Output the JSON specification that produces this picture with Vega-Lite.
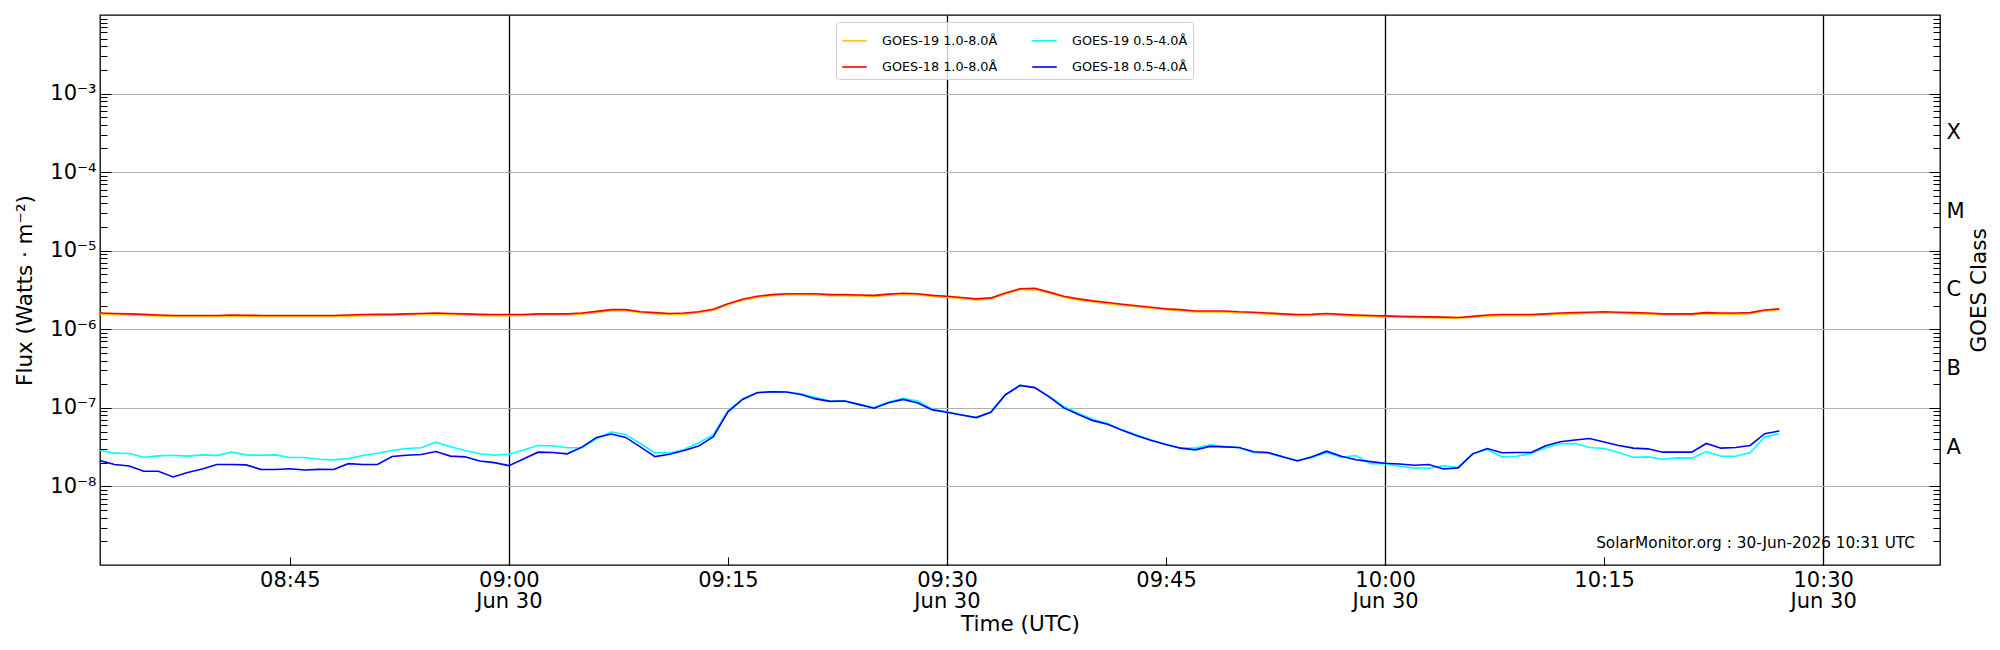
{
  "$schema": "https://vega.github.io/schema/vega-lite/v6.json",
  "width": 1840,
  "height": 550,
  "autosize": {"type": "none"},
  "padding": {"left": 100, "top": 15, "right": 60, "bottom": 85},
  "background": "white",
  "title": {
    "text": "SolarMonitor.org : 30-Jun-2026 10:31 UTC",
    "orient": "bottom",
    "anchor": "end",
    "frame": "group",
    "fontSize": 15.3,
    "fontWeight": "normal",
    "color": "black",
    "offset": 0,
    "dx": -25,
    "dy": -99
  },
  "data": {
    "values": [
      {"t": "2026-06-30T08:32:00Z", "g19l": 1.56e-6, "g18l": 1.61e-6, "g19s": 2.86e-8, "g18s": 2.13e-8},
      {"t": "2026-06-30T08:33:00Z", "g19l": 1.54e-6, "g18l": 1.59e-6, "g19s": 2.65e-8, "g18s": 1.90e-8},
      {"t": "2026-06-30T08:34:00Z", "g19l": 1.52e-6, "g18l": 1.57e-6, "g19s": 2.62e-8, "g18s": 1.82e-8},
      {"t": "2026-06-30T08:35:00Z", "g19l": 1.50e-6, "g18l": 1.55e-6, "g19s": 2.35e-8, "g18s": 1.56e-8},
      {"t": "2026-06-30T08:36:00Z", "g19l": 1.48e-6, "g18l": 1.52e-6, "g19s": 2.45e-8, "g18s": 1.56e-8},
      {"t": "2026-06-30T08:37:00Z", "g19l": 1.46e-6, "g18l": 1.50e-6, "g19s": 2.49e-8, "g18s": 1.32e-8},
      {"t": "2026-06-30T08:38:00Z", "g19l": 1.46e-6, "g18l": 1.50e-6, "g19s": 2.43e-8, "g18s": 1.50e-8},
      {"t": "2026-06-30T08:39:00Z", "g19l": 1.46e-6, "g18l": 1.50e-6, "g19s": 2.52e-8, "g18s": 1.67e-8},
      {"t": "2026-06-30T08:40:00Z", "g19l": 1.46e-6, "g18l": 1.50e-6, "g19s": 2.47e-8, "g18s": 1.90e-8},
      {"t": "2026-06-30T08:41:00Z", "g19l": 1.47e-6, "g18l": 1.52e-6, "g19s": 2.73e-8, "g18s": 1.90e-8},
      {"t": "2026-06-30T08:42:00Z", "g19l": 1.46e-6, "g18l": 1.51e-6, "g19s": 2.52e-8, "g18s": 1.88e-8},
      {"t": "2026-06-30T08:43:00Z", "g19l": 1.46e-6, "g18l": 1.50e-6, "g19s": 2.49e-8, "g18s": 1.65e-8},
      {"t": "2026-06-30T08:44:00Z", "g19l": 1.46e-6, "g18l": 1.50e-6, "g19s": 2.52e-8, "g18s": 1.64e-8},
      {"t": "2026-06-30T08:45:00Z", "g19l": 1.46e-6, "g18l": 1.50e-6, "g19s": 2.33e-8, "g18s": 1.68e-8},
      {"t": "2026-06-30T08:46:00Z", "g19l": 1.46e-6, "g18l": 1.50e-6, "g19s": 2.33e-8, "g18s": 1.62e-8},
      {"t": "2026-06-30T08:47:00Z", "g19l": 1.46e-6, "g18l": 1.50e-6, "g19s": 2.22e-8, "g18s": 1.65e-8},
      {"t": "2026-06-30T08:48:00Z", "g19l": 1.46e-6, "g18l": 1.50e-6, "g19s": 2.18e-8, "g18s": 1.64e-8},
      {"t": "2026-06-30T08:49:00Z", "g19l": 1.47e-6, "g18l": 1.52e-6, "g19s": 2.26e-8, "g18s": 1.95e-8},
      {"t": "2026-06-30T08:50:00Z", "g19l": 1.49e-6, "g18l": 1.54e-6, "g19s": 2.47e-8, "g18s": 1.90e-8},
      {"t": "2026-06-30T08:51:00Z", "g19l": 1.50e-6, "g18l": 1.55e-6, "g19s": 2.65e-8, "g18s": 1.90e-8},
      {"t": "2026-06-30T08:52:00Z", "g19l": 1.51e-6, "g18l": 1.55e-6, "g19s": 2.86e-8, "g18s": 2.40e-8},
      {"t": "2026-06-30T08:53:00Z", "g19l": 1.52e-6, "g18l": 1.57e-6, "g19s": 3.04e-8, "g18s": 2.49e-8},
      {"t": "2026-06-30T08:54:00Z", "g19l": 1.54e-6, "g18l": 1.59e-6, "g19s": 3.10e-8, "g18s": 2.55e-8},
      {"t": "2026-06-30T08:55:00Z", "g19l": 1.56e-6, "g18l": 1.61e-6, "g19s": 3.66e-8, "g18s": 2.78e-8},
      {"t": "2026-06-30T08:56:00Z", "g19l": 1.54e-6, "g18l": 1.59e-6, "g19s": 3.19e-8, "g18s": 2.43e-8},
      {"t": "2026-06-30T08:57:00Z", "g19l": 1.52e-6, "g18l": 1.57e-6, "g19s": 2.86e-8, "g18s": 2.38e-8},
      {"t": "2026-06-30T08:58:00Z", "g19l": 1.50e-6, "g18l": 1.55e-6, "g19s": 2.60e-8, "g18s": 2.11e-8},
      {"t": "2026-06-30T08:59:00Z", "g19l": 1.49e-6, "g18l": 1.54e-6, "g19s": 2.49e-8, "g18s": 2.01e-8},
      {"t": "2026-06-30T09:00:00Z", "g19l": 1.49e-6, "g18l": 1.54e-6, "g19s": 2.57e-8, "g18s": 1.84e-8},
      {"t": "2026-06-30T09:01:00Z", "g19l": 1.50e-6, "g18l": 1.54e-6, "g19s": 2.90e-8, "g18s": 2.24e-8},
      {"t": "2026-06-30T09:02:00Z", "g19l": 1.52e-6, "g18l": 1.57e-6, "g19s": 3.32e-8, "g18s": 2.73e-8},
      {"t": "2026-06-30T09:03:00Z", "g19l": 1.52e-6, "g18l": 1.57e-6, "g19s": 3.29e-8, "g18s": 2.70e-8},
      {"t": "2026-06-30T09:04:00Z", "g19l": 1.53e-6, "g18l": 1.57e-6, "g19s": 3.10e-8, "g18s": 2.60e-8},
      {"t": "2026-06-30T09:05:00Z", "g19l": 1.56e-6, "g18l": 1.61e-6, "g19s": 3.10e-8, "g18s": 3.16e-8},
      {"t": "2026-06-30T09:06:00Z", "g19l": 1.64e-6, "g18l": 1.69e-6, "g19s": 4.05e-8, "g18s": 4.21e-8},
      {"t": "2026-06-30T09:07:00Z", "g19l": 1.73e-6, "g18l": 1.78e-6, "g19s": 4.92e-8, "g18s": 4.64e-8},
      {"t": "2026-06-30T09:08:00Z", "g19l": 1.72e-6, "g18l": 1.78e-6, "g19s": 4.59e-8, "g18s": 4.21e-8},
      {"t": "2026-06-30T09:09:00Z", "g19l": 1.62e-6, "g18l": 1.67e-6, "g19s": 3.52e-8, "g18s": 3.19e-8},
      {"t": "2026-06-30T09:10:00Z", "g19l": 1.58e-6, "g18l": 1.63e-6, "g19s": 2.67e-8, "g18s": 2.40e-8},
      {"t": "2026-06-30T09:11:00Z", "g19l": 1.54e-6, "g18l": 1.59e-6, "g19s": 2.67e-8, "g18s": 2.57e-8},
      {"t": "2026-06-30T09:12:00Z", "g19l": 1.56e-6, "g18l": 1.61e-6, "g19s": 2.95e-8, "g18s": 2.86e-8},
      {"t": "2026-06-30T09:13:00Z", "g19l": 1.62e-6, "g18l": 1.67e-6, "g19s": 3.60e-8, "g18s": 3.26e-8},
      {"t": "2026-06-30T09:14:00Z", "g19l": 1.75e-6, "g18l": 1.80e-6, "g19s": 4.55e-8, "g18s": 4.29e-8},
      {"t": "2026-06-30T09:15:00Z", "g19l": 2.05e-6, "g18l": 2.11e-6, "g19s": 9.16e-8, "g18s": 8.89e-8},
      {"t": "2026-06-30T09:16:00Z", "g19l": 2.34e-6, "g18l": 2.41e-6, "g19s": 1.30e-7, "g18s": 1.28e-7},
      {"t": "2026-06-30T09:17:00Z", "g19l": 2.55e-6, "g18l": 2.63e-6, "g19s": 1.57e-7, "g18s": 1.56e-7},
      {"t": "2026-06-30T09:18:00Z", "g19l": 2.68e-6, "g18l": 2.76e-6, "g19s": 1.60e-7, "g18s": 1.60e-7},
      {"t": "2026-06-30T09:19:00Z", "g19l": 2.75e-6, "g18l": 2.83e-6, "g19s": 1.59e-7, "g18s": 1.59e-7},
      {"t": "2026-06-30T09:20:00Z", "g19l": 2.75e-6, "g18l": 2.83e-6, "g19s": 1.51e-7, "g18s": 1.48e-7},
      {"t": "2026-06-30T09:21:00Z", "g19l": 2.74e-6, "g18l": 2.83e-6, "g19s": 1.35e-7, "g18s": 1.30e-7},
      {"t": "2026-06-30T09:22:00Z", "g19l": 2.68e-6, "g18l": 2.76e-6, "g19s": 1.22e-7, "g18s": 1.21e-7},
      {"t": "2026-06-30T09:23:00Z", "g19l": 2.68e-6, "g18l": 2.76e-6, "g19s": 1.22e-7, "g18s": 1.22e-7},
      {"t": "2026-06-30T09:24:00Z", "g19l": 2.65e-6, "g18l": 2.73e-6, "g19s": 1.11e-7, "g18s": 1.10e-7},
      {"t": "2026-06-30T09:25:00Z", "g19l": 2.62e-6, "g18l": 2.70e-6, "g19s": 1.01e-7, "g18s": 9.90e-8},
      {"t": "2026-06-30T09:26:00Z", "g19l": 2.72e-6, "g18l": 2.80e-6, "g19s": 1.19e-7, "g18s": 1.16e-7},
      {"t": "2026-06-30T09:27:00Z", "g19l": 2.78e-6, "g18l": 2.87e-6, "g19s": 1.32e-7, "g18s": 1.28e-7},
      {"t": "2026-06-30T09:28:00Z", "g19l": 2.75e-6, "g18l": 2.83e-6, "g19s": 1.22e-7, "g18s": 1.15e-7},
      {"t": "2026-06-30T09:29:00Z", "g19l": 2.62e-6, "g18l": 2.70e-6, "g19s": 9.62e-8, "g18s": 9.42e-8},
      {"t": "2026-06-30T09:30:00Z", "g19l": 2.55e-6, "g18l": 2.63e-6, "g19s": 8.89e-8, "g18s": 8.79e-8},
      {"t": "2026-06-30T09:31:00Z", "g19l": 2.46e-6, "g18l": 2.54e-6, "g19s": 8.13e-8, "g18s": 8.13e-8},
      {"t": "2026-06-30T09:32:00Z", "g19l": 2.37e-6, "g18l": 2.44e-6, "g19s": 7.52e-8, "g18s": 7.52e-8},
      {"t": "2026-06-30T09:33:00Z", "g19l": 2.43e-6, "g18l": 2.51e-6, "g19s": 8.80e-8, "g18s": 8.80e-8},
      {"t": "2026-06-30T09:34:00Z", "g19l": 2.81e-6, "g18l": 2.90e-6, "g19s": 1.47e-7, "g18s": 1.47e-7},
      {"t": "2026-06-30T09:35:00Z", "g19l": 3.18e-6, "g18l": 3.28e-6, "g19s": 1.93e-7, "g18s": 1.93e-7},
      {"t": "2026-06-30T09:36:00Z", "g19l": 3.22e-6, "g18l": 3.32e-6, "g19s": 1.82e-7, "g18s": 1.81e-7},
      {"t": "2026-06-30T09:37:00Z", "g19l": 2.88e-6, "g18l": 2.97e-6, "g19s": 1.41e-7, "g18s": 1.38e-7},
      {"t": "2026-06-30T09:38:00Z", "g19l": 2.55e-6, "g18l": 2.63e-6, "g19s": 1.04e-7, "g18s": 1.00e-7},
      {"t": "2026-06-30T09:39:00Z", "g19l": 2.37e-6, "g18l": 2.44e-6, "g19s": 8.54e-8, "g18s": 8.21e-8},
      {"t": "2026-06-30T09:40:00Z", "g19l": 2.23e-6, "g18l": 2.30e-6, "g19s": 7.16e-8, "g18s": 6.88e-8},
      {"t": "2026-06-30T09:41:00Z", "g19l": 2.12e-6, "g18l": 2.19e-6, "g19s": 6.30e-8, "g18s": 6.17e-8},
      {"t": "2026-06-30T09:42:00Z", "g19l": 2.02e-6, "g18l": 2.08e-6, "g19s": 5.28e-8, "g18s": 5.17e-8},
      {"t": "2026-06-30T09:43:00Z", "g19l": 1.93e-6, "g18l": 1.99e-6, "g19s": 4.51e-8, "g18s": 4.42e-8},
      {"t": "2026-06-30T09:44:00Z", "g19l": 1.85e-6, "g18l": 1.91e-6, "g19s": 3.89e-8, "g18s": 3.85e-8},
      {"t": "2026-06-30T09:45:00Z", "g19l": 1.77e-6, "g18l": 1.82e-6, "g19s": 3.39e-8, "g18s": 3.42e-8},
      {"t": "2026-06-30T09:46:00Z", "g19l": 1.73e-6, "g18l": 1.78e-6, "g19s": 3.07e-8, "g18s": 3.07e-8},
      {"t": "2026-06-30T09:47:00Z", "g19l": 1.66e-6, "g18l": 1.71e-6, "g19s": 3.07e-8, "g18s": 2.92e-8},
      {"t": "2026-06-30T09:48:00Z", "g19l": 1.66e-6, "g18l": 1.71e-6, "g19s": 3.39e-8, "g18s": 3.23e-8},
      {"t": "2026-06-30T09:49:00Z", "g19l": 1.66e-6, "g18l": 1.71e-6, "g19s": 3.23e-8, "g18s": 3.19e-8},
      {"t": "2026-06-30T09:50:00Z", "g19l": 1.62e-6, "g18l": 1.67e-6, "g19s": 3.10e-8, "g18s": 3.13e-8},
      {"t": "2026-06-30T09:51:00Z", "g19l": 1.60e-6, "g18l": 1.65e-6, "g19s": 2.68e-8, "g18s": 2.76e-8},
      {"t": "2026-06-30T09:52:00Z", "g19l": 1.56e-6, "g18l": 1.61e-6, "g19s": 2.65e-8, "g18s": 2.70e-8},
      {"t": "2026-06-30T09:53:00Z", "g19l": 1.52e-6, "g18l": 1.57e-6, "g19s": 2.35e-8, "g18s": 2.38e-8},
      {"t": "2026-06-30T09:54:00Z", "g19l": 1.49e-6, "g18l": 1.54e-6, "g19s": 2.15e-8, "g18s": 2.11e-8},
      {"t": "2026-06-30T09:55:00Z", "g19l": 1.50e-6, "g18l": 1.55e-6, "g19s": 2.33e-8, "g18s": 2.38e-8},
      {"t": "2026-06-30T09:56:00Z", "g19l": 1.54e-6, "g18l": 1.59e-6, "g19s": 2.68e-8, "g18s": 2.81e-8},
      {"t": "2026-06-30T09:57:00Z", "g19l": 1.50e-6, "g18l": 1.55e-6, "g19s": 2.35e-8, "g18s": 2.42e-8},
      {"t": "2026-06-30T09:58:00Z", "g19l": 1.47e-6, "g18l": 1.52e-6, "g19s": 2.47e-8, "g18s": 2.18e-8},
      {"t": "2026-06-30T09:59:00Z", "g19l": 1.46e-6, "g18l": 1.50e-6, "g19s": 1.95e-8, "g18s": 2.07e-8},
      {"t": "2026-06-30T10:00:00Z", "g19l": 1.44e-6, "g18l": 1.48e-6, "g19s": 1.95e-8, "g18s": 1.97e-8},
      {"t": "2026-06-30T10:01:00Z", "g19l": 1.42e-6, "g18l": 1.46e-6, "g19s": 1.81e-8, "g18s": 1.93e-8},
      {"t": "2026-06-30T10:02:00Z", "g19l": 1.41e-6, "g18l": 1.45e-6, "g19s": 1.72e-8, "g18s": 1.86e-8},
      {"t": "2026-06-30T10:03:00Z", "g19l": 1.40e-6, "g18l": 1.44e-6, "g19s": 1.70e-8, "g18s": 1.90e-8},
      {"t": "2026-06-30T10:04:00Z", "g19l": 1.39e-6, "g18l": 1.43e-6, "g19s": 1.84e-8, "g18s": 1.67e-8},
      {"t": "2026-06-30T10:05:00Z", "g19l": 1.37e-6, "g18l": 1.41e-6, "g19s": 1.74e-8, "g18s": 1.72e-8},
      {"t": "2026-06-30T10:06:00Z", "g19l": 1.42e-6, "g18l": 1.46e-6, "g19s": 2.60e-8, "g18s": 2.60e-8},
      {"t": "2026-06-30T10:07:00Z", "g19l": 1.47e-6, "g18l": 1.52e-6, "g19s": 2.95e-8, "g18s": 3.04e-8},
      {"t": "2026-06-30T10:08:00Z", "g19l": 1.49e-6, "g18l": 1.54e-6, "g19s": 2.38e-8, "g18s": 2.68e-8},
      {"t": "2026-06-30T10:09:00Z", "g19l": 1.49e-6, "g18l": 1.54e-6, "g19s": 2.42e-8, "g18s": 2.70e-8},
      {"t": "2026-06-30T10:10:00Z", "g19l": 1.49e-6, "g18l": 1.54e-6, "g19s": 2.62e-8, "g18s": 2.70e-8},
      {"t": "2026-06-30T10:11:00Z", "g19l": 1.52e-6, "g18l": 1.57e-6, "g19s": 3.10e-8, "g18s": 3.29e-8},
      {"t": "2026-06-30T10:12:00Z", "g19l": 1.56e-6, "g18l": 1.61e-6, "g19s": 3.49e-8, "g18s": 3.70e-8},
      {"t": "2026-06-30T10:13:00Z", "g19l": 1.58e-6, "g18l": 1.63e-6, "g19s": 3.52e-8, "g18s": 3.89e-8},
      {"t": "2026-06-30T10:14:00Z", "g19l": 1.60e-6, "g18l": 1.65e-6, "g19s": 3.13e-8, "g18s": 4.08e-8},
      {"t": "2026-06-30T10:15:00Z", "g19l": 1.62e-6, "g18l": 1.67e-6, "g19s": 3.04e-8, "g18s": 3.67e-8},
      {"t": "2026-06-30T10:16:00Z", "g19l": 1.60e-6, "g18l": 1.65e-6, "g19s": 2.70e-8, "g18s": 3.32e-8},
      {"t": "2026-06-30T10:17:00Z", "g19l": 1.58e-6, "g18l": 1.63e-6, "g19s": 2.35e-8, "g18s": 3.07e-8},
      {"t": "2026-06-30T10:18:00Z", "g19l": 1.56e-6, "g18l": 1.61e-6, "g19s": 2.38e-8, "g18s": 3.01e-8},
      {"t": "2026-06-30T10:19:00Z", "g19l": 1.52e-6, "g18l": 1.57e-6, "g19s": 2.22e-8, "g18s": 2.73e-8},
      {"t": "2026-06-30T10:20:00Z", "g19l": 1.52e-6, "g18l": 1.57e-6, "g19s": 2.31e-8, "g18s": 2.73e-8},
      {"t": "2026-06-30T10:21:00Z", "g19l": 1.52e-6, "g18l": 1.57e-6, "g19s": 2.29e-8, "g18s": 2.73e-8},
      {"t": "2026-06-30T10:22:00Z", "g19l": 1.58e-6, "g18l": 1.63e-6, "g19s": 2.78e-8, "g18s": 3.52e-8},
      {"t": "2026-06-30T10:23:00Z", "g19l": 1.56e-6, "g18l": 1.61e-6, "g19s": 2.42e-8, "g18s": 3.07e-8},
      {"t": "2026-06-30T10:24:00Z", "g19l": 1.56e-6, "g18l": 1.61e-6, "g19s": 2.42e-8, "g18s": 3.13e-8},
      {"t": "2026-06-30T10:25:00Z", "g19l": 1.58e-6, "g18l": 1.63e-6, "g19s": 2.68e-8, "g18s": 3.32e-8},
      {"t": "2026-06-30T10:26:00Z", "g19l": 1.71e-6, "g18l": 1.76e-6, "g19s": 4.25e-8, "g18s": 4.69e-8},
      {"t": "2026-06-30T10:27:00Z", "g19l": 1.77e-6, "g18l": 1.82e-6, "g19s": 4.69e-8, "g18s": 5.07e-8}
    ]
  },
  "transform": [
    {"fold": ["g19l", "g18l", "g19s", "g18s"], "as": ["series", "flux"]}
  ],
  "layer": [
    {
      "mark": {"type": "line", "strokeWidth": 1.6},
      "encoding": {
        "x": {
          "field": "t",
          "type": "temporal",
          "scale": {
            "type": "utc",
            "domain": [
              {"year": 2026, "month": 6, "date": 30, "hours": 8, "minutes": 32, "utc": true},
              {"year": 2026, "month": 6, "date": 30, "hours": 10, "minutes": 38, "utc": true}
            ]
          },
          "axis": {
            "orient": "bottom",
            "title": "Time (UTC)",
            "titleFontSize": 21.5,
            "titleFontWeight": "normal",
            "titlePadding": 2,
            "values": [
              {"year": 2026, "month": 6, "date": 30, "hours": 8, "minutes": 45, "utc": true},
              {"year": 2026, "month": 6, "date": 30, "hours": 9, "minutes": 0, "utc": true},
              {"year": 2026, "month": 6, "date": 30, "hours": 9, "minutes": 15, "utc": true},
              {"year": 2026, "month": 6, "date": 30, "hours": 9, "minutes": 30, "utc": true},
              {"year": 2026, "month": 6, "date": 30, "hours": 9, "minutes": 45, "utc": true},
              {"year": 2026, "month": 6, "date": 30, "hours": 10, "minutes": 0, "utc": true},
              {"year": 2026, "month": 6, "date": 30, "hours": 10, "minutes": 15, "utc": true},
              {"year": 2026, "month": 6, "date": 30, "hours": 10, "minutes": 30, "utc": true}
            ],
            "ticks": true,
            "tickSize": 8,
            "offset": -8,
            "domain": false,
            "labelPadding": 4,
            "labelFontSize": 21,
            "labelLineHeight": 21.5,
            "labelOverlap": false,
            "labelFlush": false,
            "labelExpr": "utcminutes(datum.value) % 30 == 0 ? [utcFormat(datum.value, '%H:%M'), 'Jun 30'] : utcFormat(datum.value, '%H:%M')",
            "grid": true,
            "gridColor": "black",
            "gridWidth": 1.3,
            "gridOpacity": {"condition": {"test": "utcminutes(datum.value) % 30 == 0", "value": 1}, "value": 0}
          }
        },
        "y": {
          "field": "flux",
          "type": "quantitative",
          "scale": {"type": "log", "domain": [1e-9, 1e-2], "nice": false},
          "axis": {
            "orient": "left",
            "values": [1e-8, 1e-7, 1e-6, 1e-5, 1e-4, 1e-3],
            "title": "Flux (Watts  ·  m⁻²)",
            "titleFontSize": 21.5,
            "titleFontWeight": "normal",
            "titlePadding": 13,
            "ticks": true,
            "tickSize": 11,
            "offset": -11,
            "domain": false,
            "labelPadding": 4,
            "labelFontSize": 21,
            "labelOverlap": false,
            "labelExpr": "datum.value < 3e-8 ? '10⁻⁸' : datum.value < 3e-7 ? '10⁻⁷' : datum.value < 3e-6 ? '10⁻⁶' : datum.value < 3e-5 ? '10⁻⁵' : datum.value < 3e-4 ? '10⁻⁴' : '10⁻³'",
            "grid": true,
            "gridColor": "#b0b0b0",
            "gridWidth": 1
          }
        },
        "color": {
          "field": "series",
          "type": "nominal",
          "scale": {
            "domain": ["g19l", "g18l", "g19s", "g18s"],
            "range": ["#ffc400", "#ff0000", "#00ffff", "#0000ff"]
          },
          "legend": {
            "orient": "none",
            "legendX": 736,
            "legendY": 7,
            "columns": 2,
            "title": null,
            "symbolType": "stroke",
            "symbolSize": 600,
            "symbolStrokeWidth": 1.6,
            "labelFontSize": 12.8,
            "labelLimit": 300,
            "labelOffset": 14,
            "columnPadding": 31,
            "rowPadding": 5.5,
            "padding": 5,
            "fillColor": "rgba(255,255,255,0.8)",
            "strokeColor": "#d0d0d0",
            "cornerRadius": 3,
            "labelExpr": "datum.label == 'g19l' ? 'GOES-19 1.0-8.0Å' : datum.label == 'g18l' ? 'GOES-18 1.0-8.0Å' : datum.label == 'g19s' ? 'GOES-19 0.5-4.0Å' : 'GOES-18 0.5-4.0Å'"
          }
        }
      }
    },
    {
      "mark": {"type": "point", "opacity": 0},
      "encoding": {
        "y": {
          "field": "flux",
          "type": "quantitative",
          "scale": {"type": "log", "domain": [1e-9, 1e-2], "nice": false},
          "axis": {
            "orient": "left",
            "values": [2e-9, 3e-9, 4e-9, 5e-9, 6e-9, 7e-9, 8e-9, 9e-9, 2e-8, 3e-8, 4e-8, 5e-8, 6e-8, 7e-8, 8e-8, 9e-8, 2e-7, 3e-7, 4e-7, 5e-7, 6e-7, 7e-7, 8e-7, 9e-7, 2e-6, 3e-6, 4e-6, 5e-6, 6e-6, 7e-6, 8e-6, 9e-6, 2e-5, 3e-5, 4e-5, 5e-5, 6e-5, 7e-5, 8e-5, 9e-5, 2e-4, 3e-4, 4e-4, 5e-4, 6e-4, 7e-4, 8e-4, 9e-4, 2e-3, 3e-3, 4e-3, 5e-3, 6e-3, 7e-3, 8e-3, 9e-3],
            "title": null,
            "ticks": true,
            "tickSize": 7,
            "offset": -7,
            "labels": false,
            "grid": false,
            "domain": false
          }
        }
      }
    },
    {
      "mark": {"type": "point", "opacity": 0},
      "encoding": {
        "y": {
          "field": "flux",
          "type": "quantitative",
          "scale": {"type": "log", "domain": [1e-9, 1e-2], "nice": false},
          "axis": {
            "orient": "right",
            "values": [1e-8, 1e-7, 1e-6, 1e-5, 1e-4, 1e-3],
            "title": null,
            "ticks": true,
            "tickSize": 11,
            "offset": -11,
            "labels": false,
            "grid": false,
            "domain": false
          }
        }
      }
    },
    {
      "mark": {"type": "point", "opacity": 0},
      "encoding": {
        "y": {
          "field": "flux",
          "type": "quantitative",
          "scale": {"type": "log", "domain": [1e-9, 1e-2], "nice": false},
          "axis": {
            "orient": "right",
            "values": [2e-9, 3e-9, 4e-9, 5e-9, 6e-9, 7e-9, 8e-9, 9e-9, 2e-8, 3e-8, 4e-8, 5e-8, 6e-8, 7e-8, 8e-8, 9e-8, 2e-7, 3e-7, 4e-7, 5e-7, 6e-7, 7e-7, 8e-7, 9e-7, 2e-6, 3e-6, 4e-6, 5e-6, 6e-6, 7e-6, 8e-6, 9e-6, 2e-5, 3e-5, 4e-5, 5e-5, 6e-5, 7e-5, 8e-5, 9e-5, 2e-4, 3e-4, 4e-4, 5e-4, 6e-4, 7e-4, 8e-4, 9e-4, 2e-3, 3e-3, 4e-3, 5e-3, 6e-3, 7e-3, 8e-3, 9e-3],
            "title": null,
            "ticks": true,
            "tickSize": 7,
            "offset": -7,
            "labels": false,
            "grid": false,
            "domain": false
          }
        }
      }
    },
    {
      "mark": {"type": "point", "opacity": 0},
      "encoding": {
        "y": {
          "field": "flux",
          "type": "quantitative",
          "scale": {"type": "log", "domain": [1e-9, 1e-2], "nice": false},
          "axis": {
            "orient": "right",
            "values": [3.1623e-8, 3.1623e-7, 3.1623e-6, 3.1623e-5, 3.1623e-4],
            "title": "GOES Class",
            "titleFontSize": 21.5,
            "titleFontWeight": "normal",
            "titleAngle": 270,
            "titleBaseline": "top",
            "titlePadding": 4,
            "ticks": false,
            "labelPadding": 6,
            "labelFontSize": 21,
            "labelOverlap": false,
            "labelExpr": "datum.value < 1e-7 ? 'A' : datum.value < 1e-6 ? 'B' : datum.value < 1e-5 ? 'C' : datum.value < 1e-4 ? 'M' : 'X'",
            "grid": false,
            "domain": false
          }
        }
      }
    }
  ],
  "resolve": {"axis": {"x": "independent", "y": "independent"}},
  "config": {
    "font": "DejaVu Sans",
    "view": {"stroke": "black", "strokeWidth": 1.3},
    "axis": {
      "labelColor": "black",
      "titleColor": "black",
      "tickColor": "black",
      "tickWidth": 1,
      "domainColor": "black"
    }
  }
}
